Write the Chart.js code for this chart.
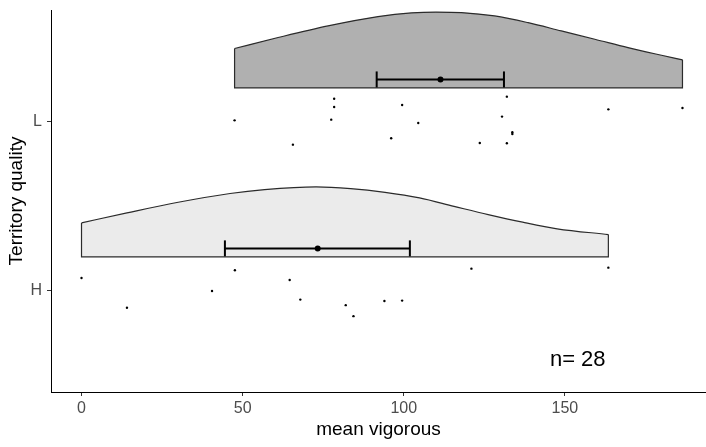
<!DOCTYPE html>
<html>
<head>
<meta charset="utf-8">
<script src="https://cdn.jsdelivr.net/npm/chart.js@4.4.1/dist/chart.umd.min.js"></script>
<style>
  html, body { margin: 0; padding: 0; background: #fff; }
  #chart { display: block; }
</style>
</head>
<body>
<canvas id="chart" width="706" height="447"></canvas>
<script>
// categories on the y axis (bottom to top)
const categories = ['H', 'L'];

const hValues = [0, 47.6, 64.6, 121.0, 163.5, 40.5, 14.1, 67.9, 82.0, 94.0, 99.5, 84.4];
const hJitter = [0.075, 0.121, 0.063, 0.130, 0.136, -0.002, -0.101, -0.053, -0.086, -0.061, -0.059, -0.151];
const lValues = [78.4, 78.4, 99.5, 132.0, 163.5, 186.5, 47.5, 77.5, 104.5, 130.5, 133.7, 133.7, 96.1, 123.6, 132.0, 65.6];
const lJitter = [0.136, 0.087, 0.099, 0.148, 0.073, 0.081, 0.008, 0.012, -0.008, 0.030, -0.063, -0.073, -0.098, -0.126, -0.128, -0.136];

// half violin outlines (density height in category units)
const hDensityX = [0, 14.1, 30.0, 46.1, 56.8, 72.8, 83.5, 94.2, 104.9, 115.6, 126.2, 136.9, 147.6, 163.5];
const hDensity = [0.201, 0.260, 0.323, 0.375, 0.398, 0.414, 0.404, 0.382, 0.349, 0.299, 0.250, 0.205, 0.166, 0.132];
const lDensityX = [47.5, 61.0, 76.5, 92.0, 102.4, 110.0, 117.9, 128.2, 138.6, 148.9, 159.3, 169.6, 180.0, 186.5];
const lDensity = [0.233, 0.298, 0.367, 0.422, 0.444, 0.449, 0.446, 0.426, 0.386, 0.337, 0.288, 0.238, 0.193, 0.166];

// mean and interval per category
const meanValues = [73.3, 111.4];
const ciLow = [44.5, 91.6];
const ciHigh = [101.9, 131.1];

const xTicks = [0, 50, 100, 150];
const sampleSize = 28;

const violinFill = ['#ebebeb', '#b0b0b0'];
const BASE = 0.2;   // violin sits this far above the category
const BAR = 0.25;   // error bar height above the category

const allValues = [hValues, lValues];
const allJitter = [hJitter, lJitter];
const densX = [hDensityX, lDensityX];
const dens = [hDensity, lDensity];

const datasets = [];
categories.forEach(function(cat, i) {
  const pos = i + 1;
  const base = pos + BASE;
  const xs = densX[i], hs = dens[i];
  // density curve, filled down to the base
  datasets.push({
    type: 'line',
    data: xs.map((x, k) => ({x: x, y: base + hs[k]})),
    borderColor: '#2b2b2b',
    borderWidth: 1.2,
    backgroundColor: violinFill[i],
    fill: {value: base},
    cubicInterpolationMode: 'monotone',
    pointRadius: 0,
    order: 5
  });
  // sides and bottom of the violin
  const last = xs.length - 1;
  datasets.push({
    type: 'line',
    data: [
      {x: xs[0], y: base + hs[0]},
      {x: xs[0], y: base},
      {x: xs[last], y: base},
      {x: xs[last], y: base + hs[last]}
    ],
    borderColor: '#2b2b2b',
    borderWidth: 1.2,
    fill: false,
    tension: 0,
    pointRadius: 0,
    order: 4
  });
  // jittered raw points
  datasets.push({
    type: 'scatter',
    data: allValues[i].map((v, k) => ({x: v, y: pos + allJitter[i][k]})),
    pointRadius: 1.2,
    pointBackgroundColor: '#000',
    pointBorderWidth: 0,
    order: 3
  });
  // error bar with caps
  datasets.push({
    type: 'line',
    data: [{x: ciLow[i], y: pos + BAR}, {x: ciHigh[i], y: pos + BAR}],
    borderColor: '#000',
    borderWidth: 2,
    fill: false,
    pointStyle: 'line',
    rotation: 90,
    pointRadius: 8,
    pointBorderWidth: 2,
    pointBorderColor: '#000',
    order: 2
  });
  // mean
  datasets.push({
    type: 'scatter',
    data: [{x: meanValues[i], y: pos + BAR}],
    pointRadius: 3,
    pointBackgroundColor: '#000',
    pointBorderWidth: 0,
    order: 1
  });
});

const nLabel = {
  id: 'nLabel',
  afterDatasetsDraw(chart) {
    const ctx = chart.ctx;
    const x = chart.scales.x.getPixelForValue(154);
    const y = chart.scales.y.getPixelForValue(0.59);
    ctx.save();
    ctx.font = '22px "Liberation Sans", Arial, sans-serif';
    ctx.fillStyle = '#000';
    ctx.textAlign = 'center';
    ctx.textBaseline = 'middle';
    ctx.fillText('n= ' + sampleSize, x, y);
    ctx.restore();
  }
};

const ctx = document.getElementById('chart').getContext('2d');
const chart = new Chart(ctx, {
  type: 'scatter',
  data: { datasets: datasets },
  plugins: [nLabel],
  options: {
    responsive: false,
    animation: false,
    devicePixelRatio: 1,
    layout: { padding: { top: 10, right: 0, bottom: 0, left: 0 }, autoPadding: false },
    plugins: { legend: { display: false }, tooltip: { enabled: false } },
    scales: {
      x: {
        type: 'linear',
        min: -9.47,
        max: 193.8,
        afterBuildTicks: function(scale) {
          scale.ticks = xTicks.map(v => ({value: v}));
        },
        afterFit: function(scale) {
          scale.height = 55;
          scale.paddingLeft = 0;
          scale.paddingRight = 0;
        },
        border: { display: true, color: '#000', width: 1 },
        grid: { display: true, drawOnChartArea: false, drawTicks: true, tickLength: 4, color: '#333333' },
        ticks: {
          color: '#4d4d4d',
          padding: 3,
          maxRotation: 0,
          font: { family: '"Liberation Sans", Arial, sans-serif', size: 16 }
        },
        title: {
          display: true,
          text: 'mean vigorous',
          color: '#000',
          padding: { top: 0, bottom: 6 },
          font: { family: '"Liberation Sans", Arial, sans-serif', size: 19 }
        }
      },
      y: {
        type: 'linear',
        min: 0.4,
        max: 2.661,
        afterBuildTicks: function(scale) {
          scale.ticks = categories.map((c, i) => ({value: i + 1}));
        },
        afterFit: function(scale) {
          scale.width = 51;
          scale.paddingTop = 0;
          scale.paddingBottom = 0;
        },
        border: { display: true, color: '#000', width: 1 },
        grid: { display: true, drawOnChartArea: false, drawTicks: true, tickLength: 4, color: '#333333' },
        ticks: {
          color: '#4d4d4d',
          padding: 5,
          font: { family: '"Liberation Sans", Arial, sans-serif', size: 16 },
          callback: function(v) { return categories[v - 1]; }
        },
        title: {
          display: true,
          text: 'Territory quality',
          color: '#000',
          padding: { top: 5, bottom: 0 },
          font: { family: '"Liberation Sans", Arial, sans-serif', size: 19 }
        }
      }
    }
  }
});
</script>
</body>
</html>
